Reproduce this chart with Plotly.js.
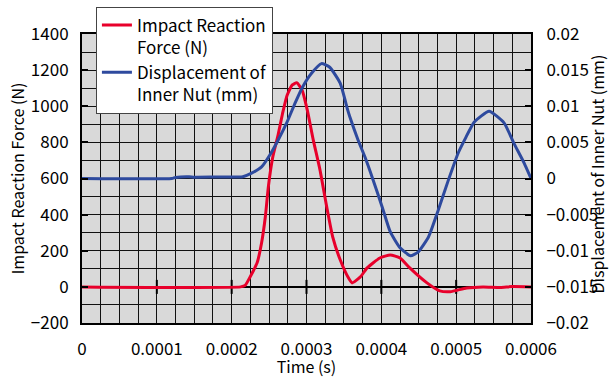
<!DOCTYPE html>
<html>
<head>
<meta charset="utf-8">
<script src="https://cdn.plot.ly/plotly-3.0.1.min.js"></script>
<style>html,body{margin:0;padding:0;background:#fff;}#chart{width:609px;height:378px;}</style>
</head>
<body>
<div id="chart"></div>
<script>
// Time (s) samples for the impact reaction force (left axis, N)
const forceTime = [0, 0.000212, 0.000218, 0.000224, 0.000234, 0.00024, 0.000245, 0.000249, 0.000255, 0.000262, 0.000268, 0.000274, 0.000281, 0.000287, 0.000294, 0.000301, 0.000309, 0.000318, 0.000327, 0.000335, 0.000345, 0.000356, 0.000361, 0.000372, 0.000381, 0.000398, 0.000412, 0.000425, 0.000438, 0.000461, 0.000478, 0.000492, 0.000514, 0.000536, 0.000559, 0.000575, 0.0006];
const forceValues = [0, 0, 8, 50, 133, 244, 388, 554, 720, 840, 960, 1060, 1118, 1130, 1091, 980, 814, 648, 443, 277, 150, 50, 22, 55, 105, 160, 177, 160, 105, 22, -22, -27, -6, 0, -3, 2, 0];

// Time (s) samples for the displacement of inner nut (right axis, mm)
const dispTime = [0, 0.00012, 0.000125, 0.000143, 0.00015, 0.00018, 0.00021, 0.000215, 0.000226, 0.00024, 0.000251, 0.000262, 0.000274, 0.000285, 0.000295, 0.000307, 0.00032, 0.000331, 0.000345, 0.000355, 0.000358, 0.000369, 0.000378, 0.000389, 0.000401, 0.000412, 0.000425, 0.000439, 0.000449, 0.000463, 0.000476, 0.000489, 0.000503, 0.000513, 0.000524, 0.000544, 0.000564, 0.000577, 0.000591, 0.0006];
const dispValues = [0, 0, 0.00015, 0.00025, 0.00018, 0.0002, 0.0002, 0.00025, 0.0007, 0.0016, 0.00325, 0.0053, 0.0078, 0.0105, 0.0127, 0.0146, 0.0159, 0.0154, 0.0132, 0.0095, 0.0085, 0.0053, 0.003, -0.0002, -0.0039, -0.0074, -0.0096, -0.0107, -0.0102, -0.0081, -0.0044, -0.0004, 0.0036, 0.0057, 0.0078, 0.0093, 0.0077, 0.0049, 0.0021, 0];

// Major time ticks that cross the force zero line
const zeroLineTicks = [0.0001, 0.0002, 0.0003, 0.0004, 0.0005];

const seriesNames = ['Impact Reaction<br>Force (N)', 'Displacement of<br>Inner Nut (mm)'];
const xTitle = 'Time (s)';
const yTitle = 'Impact Reaction Force (N)';
const y2Title = 'Displacement of Inner Nut (mm)';

const FONT = '"Noto Sans CJK JP", "Noto Sans", sans-serif';

const traces = [
  {
    x: zeroLineTicks, y: zeroLineTicks.map(() => 0), type: 'scatter', mode: 'markers',
    marker: {symbol: 'line-ns', size: 10, line: {color: '#000', width: 2}},
    showlegend: false, hoverinfo: 'skip', xaxis: 'x', yaxis: 'y'
  },
  {
    x: forceTime, y: forceValues, name: seriesNames[0], type: 'scatter', mode: 'lines',
    line: {color: '#e8002b', width: 3, shape: 'spline', smoothing: 0.5},
    xaxis: 'x', yaxis: 'y'
  },
  {
    x: dispTime, y: dispValues, name: seriesNames[1], type: 'scatter', mode: 'lines',
    line: {color: '#2e4a9e', width: 3, shape: 'spline', smoothing: 0.5},
    xaxis: 'x', yaxis: 'y2'
  }
];

const layout = {
  width: 609, height: 378,
  margin: {l: 82, r: 78, t: 34, b: 55, pad: 0, autoexpand: false},
  paper_bgcolor: '#ffffff',
  plot_bgcolor: '#d9d9d9',
  font: {family: FONT, size: 17, color: '#000'},
  showlegend: true,
  legend: {
    x: 0.031, y: 1.095, xanchor: 'left', yanchor: 'top',
    bgcolor: '#ffffff', bordercolor: '#444', borderwidth: 1,
    font: {family: FONT, size: 17, color: '#000'}, valign: 'top'
  },
  xaxis: {
    range: [0, 0.0006], tick0: 0, dtick: 0.0001, exponentformat: 'none',
    showgrid: true, gridcolor: '#111', gridwidth: 1,
    minor: {dtick: 0.000025, showgrid: true, gridcolor: '#111', gridwidth: 1},
    showline: true, mirror: true, linecolor: '#000', linewidth: 2,
    ticks: 'outside', ticklen: 10, tickcolor: 'rgba(0,0,0,0)', zeroline: false,
    tickfont: {family: FONT, size: 17},
    title: {text: xTitle, font: {family: FONT, size: 16}, standoff: 14}
  },
  yaxis: {
    range: [-200, 1400], tick0: 0, dtick: 200,
    showgrid: true, gridcolor: '#111', gridwidth: 1,
    minor: {dtick: 100, showgrid: true, gridcolor: '#111', gridwidth: 1},
    zeroline: true, zerolinecolor: '#000', zerolinewidth: 2,
    showline: true, mirror: true, linecolor: '#000', linewidth: 2,
    ticks: 'inside', ticklen: 6, tickwidth: 2, tickcolor: '#000',
    ticklabelstandoff: 8,
    tickfont: {family: FONT, size: 17},
    title: {text: yTitle, font: {family: FONT, size: 16}, standoff: 2}
  },
  yaxis2: {
    overlaying: 'y', side: 'right', anchor: 'x',
    range: [-0.02, 0.02], tick0: 0, dtick: 0.005, exponentformat: 'none',
    showgrid: false, zeroline: false,
    showline: true, linecolor: '#000', linewidth: 2,
    ticks: 'inside', ticklen: 6, tickwidth: 2, tickcolor: '#000',
    ticklabelstandoff: 10,
    tickfont: {family: FONT, size: 17}
  },
  annotations: [{
    text: y2Title, xref: 'paper', yref: 'paper', x: 1.148, y: 0.5156,
    xanchor: 'center', yanchor: 'middle', textangle: -90, showarrow: false,
    font: {family: FONT, size: 16, color: '#000'}
  }]
};

Plotly.newPlot('chart', traces, layout, {displayModeBar: false, staticPlot: true});
</script>
</body>
</html>
